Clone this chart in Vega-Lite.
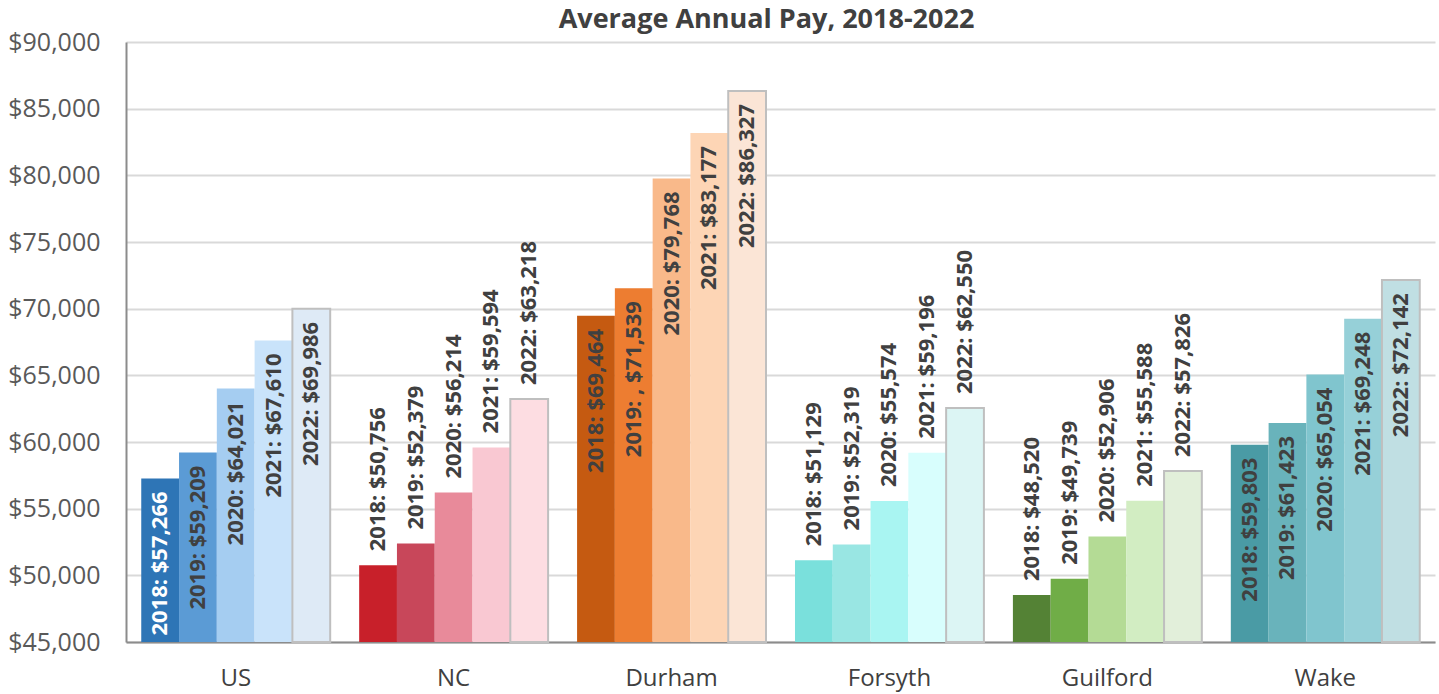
{
  "$schema": "https://vega.github.io/schema/vega-lite/v6.json",
  "width": 1309,
  "height": 600,
  "autosize": "none",
  "padding": {"left": 126, "top": 42, "right": 4, "bottom": 52},
  "background": "white",
  "title": {
    "text": "Average Annual Pay, 2018-2022",
    "font": "Open Sans",
    "fontSize": 27,
    "fontWeight": "bold",
    "color": "#404040",
    "anchor": "middle",
    "dx": -14,
    "dy": 8,
    "offset": 4
  },
  "config": {
    "view": {"stroke": null},
    "font": "Open Sans"
  },
  "data": {
    "values": [
      {"region": "US", "year": 2018, "series": "US 2018", "value": 57266, "label": "2018: $57,266"},
      {"region": "US", "year": 2019, "series": "US 2019", "value": 59209, "label": "2019: $59,209"},
      {"region": "US", "year": 2020, "series": "US 2020", "value": 64021, "label": "2020: $64,021"},
      {"region": "US", "year": 2021, "series": "US 2021", "value": 67610, "label": "2021: $67,610"},
      {"region": "US", "year": 2022, "series": "US 2022", "value": 69986, "label": "2022: $69,986"},
      {"region": "NC", "year": 2018, "series": "NC 2018", "value": 50756, "label": "2018: $50,756"},
      {"region": "NC", "year": 2019, "series": "NC 2019", "value": 52379, "label": "2019: $52,379"},
      {"region": "NC", "year": 2020, "series": "NC 2020", "value": 56214, "label": "2020: $56,214"},
      {"region": "NC", "year": 2021, "series": "NC 2021", "value": 59594, "label": "2021: $59,594"},
      {"region": "NC", "year": 2022, "series": "NC 2022", "value": 63218, "label": "2022: $63,218"},
      {"region": "Durham", "year": 2018, "series": "Durham 2018", "value": 69464, "label": "2018: $69,464"},
      {"region": "Durham", "year": 2019, "series": "Durham 2019", "value": 71539, "label": "2019: , $71,539"},
      {"region": "Durham", "year": 2020, "series": "Durham 2020", "value": 79768, "label": "2020: $79,768"},
      {"region": "Durham", "year": 2021, "series": "Durham 2021", "value": 83177, "label": "2021: $83,177"},
      {"region": "Durham", "year": 2022, "series": "Durham 2022", "value": 86327, "label": "2022: $86,327"},
      {"region": "Forsyth", "year": 2018, "series": "Forsyth 2018", "value": 51129, "label": "2018: $51,129"},
      {"region": "Forsyth", "year": 2019, "series": "Forsyth 2019", "value": 52319, "label": "2019: $52,319"},
      {"region": "Forsyth", "year": 2020, "series": "Forsyth 2020", "value": 55574, "label": "2020: $55,574"},
      {"region": "Forsyth", "year": 2021, "series": "Forsyth 2021", "value": 59196, "label": "2021: $59,196"},
      {"region": "Forsyth", "year": 2022, "series": "Forsyth 2022", "value": 62550, "label": "2022: $62,550"},
      {"region": "Guilford", "year": 2018, "series": "Guilford 2018", "value": 48520, "label": "2018: $48,520"},
      {"region": "Guilford", "year": 2019, "series": "Guilford 2019", "value": 49739, "label": "2019: $49,739"},
      {"region": "Guilford", "year": 2020, "series": "Guilford 2020", "value": 52906, "label": "2020: $52,906"},
      {"region": "Guilford", "year": 2021, "series": "Guilford 2021", "value": 55588, "label": "2021: $55,588"},
      {"region": "Guilford", "year": 2022, "series": "Guilford 2022", "value": 57826, "label": "2022: $57,826"},
      {"region": "Wake", "year": 2018, "series": "Wake 2018", "value": 59803, "label": "2018: $59,803"},
      {"region": "Wake", "year": 2019, "series": "Wake 2019", "value": 61423, "label": "2019: $61,423"},
      {"region": "Wake", "year": 2020, "series": "Wake 2020", "value": 65054, "label": "2020: $65,054"},
      {"region": "Wake", "year": 2021, "series": "Wake 2021", "value": 69248, "label": "2021: $69,248"},
      {"region": "Wake", "year": 2022, "series": "Wake 2022", "value": 72142, "label": "2022: $72,142"}
    ]
  },
  "encoding": {
    "x": {
      "field": "region",
      "type": "nominal",
      "sort": ["US", "NC", "Durham", "Forsyth", "Guilford", "Wake"],
      "scale": {"paddingInner": 0.133, "paddingOuter": 0.07},
      "axis": {
        "title": null,
        "labelAngle": 0,
        "labelFont": "Open Sans",
        "labelFontSize": 24,
        "labelColor": "#404040",
        "labelPadding": 24,
        "ticks": false,
        "tickSize": 0,
        "domainColor": "#8C8C8C",
        "domainWidth": 2,
        "grid": false
      }
    },
    "xOffset": {
      "field": "year",
      "type": "ordinal",
      "scale": {"paddingInner": 0, "paddingOuter": 0}
    },
    "y": {
      "field": "value",
      "type": "quantitative",
      "scale": {"domain": [45000, 90000], "zero": false, "nice": false},
      "axis": {
        "title": null,
        "values": [45000, 50000, 55000, 60000, 65000, 70000, 75000, 80000, 85000, 90000],
        "format": "$,.0f",
        "labelFont": "Open Sans",
        "labelFontSize": 25,
        "labelColor": "#595959",
        "labelPadding": 26,
        "ticks": false,
        "tickSize": 0,
        "domainColor": "#8C8C8C",
        "domainWidth": 2,
        "gridColor": "#D9D9D9",
        "gridWidth": 2
      }
    }
  },
  "layer": [
    {
      "mark": {"type": "bar"},
      "encoding": {
        "y2": {"datum": 45000},
        "color": {
          "field": "series",
          "type": "nominal",
          "legend": null,
          "scale": {
            "domain": ["US 2018", "US 2019", "US 2020", "US 2021", "US 2022",
                       "NC 2018", "NC 2019", "NC 2020", "NC 2021", "NC 2022",
                       "Durham 2018", "Durham 2019", "Durham 2020", "Durham 2021", "Durham 2022",
                       "Forsyth 2018", "Forsyth 2019", "Forsyth 2020", "Forsyth 2021", "Forsyth 2022",
                       "Guilford 2018", "Guilford 2019", "Guilford 2020", "Guilford 2021", "Guilford 2022",
                       "Wake 2018", "Wake 2019", "Wake 2020", "Wake 2021", "Wake 2022"],
            "range": ["#2E75B6", "#5B9BD5", "#A5CDF1", "#C9E3FA", "#DEEAF6",
                      "#C8202A", "#C8475A", "#E88A9A", "#F9C8D2", "#FDDDE2",
                      "#C55A11", "#ED7D31", "#F9B98A", "#FDD5B5", "#FBE5D6",
                      "#7AE0DC", "#99E6E3", "#A9F5F2", "#D8FEFD", "#DCF5F4",
                      "#548235", "#70AD47", "#B4DB95", "#D2EDC2", "#E2EFDA",
                      "#4A9BA5", "#69B3BB", "#80C5CE", "#96D0D8", "#C0DFE3"]
          }
        },
        "stroke": {
          "condition": {"test": "datum.year === 2022", "value": "#BFBFBF"},
          "value": null
        },
        "strokeWidth": {
          "condition": {"test": "datum.year === 2022", "value": 2},
          "value": 0
        }
      }
    },
    {
      "transform": [{"filter": "indexof(['US','Durham','Wake'], datum.region) >= 0"}],
      "mark": {
        "type": "text",
        "angle": 270,
        "align": "right",
        "baseline": "middle",
        "dx": -13,
        "font": "Open Sans",
        "fontSize": 22,
        "fontWeight": "bold"
      },
      "encoding": {
        "text": {"field": "label"},
        "color": {
          "condition": {"test": "datum.series === 'US 2018'", "value": "#FFFFFF"},
          "value": "#404040"
        }
      }
    },
    {
      "transform": [{"filter": "indexof(['US','Durham','Wake'], datum.region) < 0"}],
      "mark": {
        "type": "text",
        "angle": 270,
        "align": "left",
        "baseline": "middle",
        "dx": 14,
        "font": "Open Sans",
        "fontSize": 22,
        "fontWeight": "bold",
        "color": "#404040"
      },
      "encoding": {
        "text": {"field": "label"}
      }
    }
  ]
}
